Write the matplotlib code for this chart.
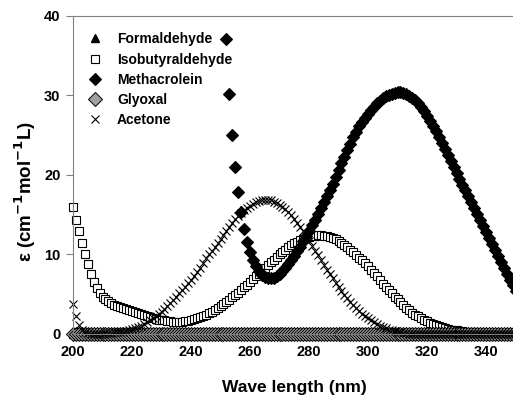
import numpy as np
import matplotlib
matplotlib.use("Agg")
import matplotlib.pyplot as plt

plt.rcParams["font.family"] = ["Liberation Sans", "DejaVu Sans"]
plt.rcParams["font.weight"] = "bold"
plt.rcParams["mathtext.default"] = "bf"

# wavelength grid, 1 nm steps
wavelength = np.arange(200, 351)
wl_methacrolein = np.arange(252, 351)

formaldehyde = [
    0.05, 0.05, 0.05, 0.05, 0.05, 0.05, 0.05, 0.05, 0.05, 0.05,
    0.05, 0.05, 0.05, 0.05, 0.05, 0.05, 0.05, 0.05, 0.05, 0.05,
    0.05, 0.05, 0.05, 0.05, 0.05, 0.05, 0.05, 0.05, 0.05, 0.05,
    0.05, 0.05, 0.05, 0.05, 0.05, 0.05, 0.05, 0.05, 0.05, 0.05,
    0.08, 0.08, 0.08, 0.08, 0.08, 0.1, 0.1, 0.1, 0.1, 0.1,
    0.12, 0.12, 0.12, 0.12, 0.12, 0.14, 0.14, 0.14, 0.14, 0.14,
    0.15, 0.15, 0.15, 0.15, 0.15, 0.16, 0.16, 0.16, 0.16, 0.16,
    0.18, 0.18, 0.18, 0.18, 0.18, 0.2, 0.2, 0.2, 0.2, 0.2,
    0.2, 0.2, 0.2, 0.2, 0.2, 0.2, 0.2, 0.2, 0.2, 0.2,
    0.2, 0.2, 0.2, 0.2, 0.2, 0.2, 0.2, 0.2, 0.2, 0.2,
    0.2, 0.2, 0.2, 0.2, 0.2, 0.2, 0.2, 0.2, 0.2, 0.2,
    0.18, 0.18, 0.18, 0.18, 0.18, 0.16, 0.16, 0.16, 0.16, 0.16,
    0.15, 0.15, 0.15, 0.15, 0.15, 0.14, 0.14, 0.14, 0.14, 0.14,
    0.12, 0.12, 0.12, 0.12, 0.12, 0.1, 0.1, 0.1, 0.1, 0.1,
    0.1, 0.1, 0.1, 0.1, 0.1, 0.1, 0.1, 0.1, 0.1, 0.1,
    0.1,
]

isobutyraldehyde = [
    16.0, 14.4, 12.9, 11.4, 10.0, 8.8, 7.6, 6.6, 5.8, 5.2,
    4.7, 4.35, 4.1, 3.9, 3.7, 3.55, 3.4, 3.3, 3.15, 3.0,
    2.9, 2.75, 2.6, 2.5, 2.35, 2.2, 2.1, 2.0, 1.9, 1.8,
    1.75, 1.7, 1.65, 1.6, 1.55, 1.55, 1.55, 1.55, 1.6, 1.65,
    1.75, 1.85, 1.95, 2.1, 2.25, 2.4, 2.6, 2.8, 3.0, 3.25,
    3.5, 3.75, 4.0, 4.3, 4.6, 4.9, 5.2, 5.5, 5.85, 6.2,
    6.55, 6.9, 7.25, 7.6, 7.95, 8.3, 8.65, 9.0, 9.35, 9.7,
    10.0, 10.3, 10.6, 10.9, 11.15, 11.4, 11.6, 11.8, 11.95, 12.1,
    12.2, 12.3, 12.35, 12.4, 12.4, 12.35, 12.3, 12.2, 12.05, 11.9,
    11.7, 11.45, 11.2, 10.9, 10.6, 10.3, 9.95, 9.6, 9.25, 8.9,
    8.5, 8.1, 7.7, 7.25, 6.8, 6.35, 5.9, 5.5, 5.1, 4.7,
    4.35, 4.0, 3.65, 3.3, 3.0, 2.7, 2.45, 2.2, 2.0, 1.8,
    1.6, 1.4, 1.25, 1.1, 0.95, 0.85, 0.75, 0.65, 0.55, 0.5,
    0.45, 0.4, 0.35, 0.3, 0.27, 0.25, 0.22, 0.2, 0.18, 0.16,
    0.15, 0.14, 0.13, 0.12, 0.11, 0.1, 0.1, 0.1, 0.1, 0.1,
    0.1,
]

methacrolein = [
    37.1, 30.2, 25.0, 21.0, 17.9, 15.3, 13.2, 11.6, 10.3, 9.3,
    8.5, 7.9, 7.45, 7.15, 7.0, 7.0, 7.1, 7.3, 7.6, 7.95,
    8.35, 8.8, 9.3, 9.85, 10.4, 11.0, 11.65, 12.3, 12.95, 13.65,
    14.35, 15.05, 15.8, 16.55, 17.3, 18.1, 18.9, 19.75, 20.6, 21.45,
    22.3, 23.15, 23.95, 24.75, 25.45, 26.1, 26.7, 27.2, 27.7, 28.15,
    28.6, 29.0, 29.35, 29.65, 29.9, 30.1, 30.25, 30.35, 30.4, 30.4,
    30.3, 30.15, 29.95, 29.7, 29.4, 29.0, 28.55, 28.0, 27.45, 26.85,
    26.2, 25.5, 24.8, 24.05, 23.3, 22.55, 21.8, 21.05, 20.3, 19.55,
    18.8, 18.05, 17.3, 16.55, 15.8, 15.05, 14.3, 13.55, 12.8, 12.05,
    11.3, 10.55, 9.8, 9.05, 8.3, 7.6, 6.8, 6.1, 5.4,
]

glyoxal = [
    0.0, 0.0, 0.0, 0.0, 0.0, 0.0, 0.0, 0.0, 0.0, 0.0,
    0.0, 0.0, 0.0, 0.0, 0.0, 0.0, 0.0, 0.0, 0.0, 0.0,
    0.0, 0.0, 0.0, 0.0, 0.0, 0.0, 0.0, 0.0, 0.0, 0.0,
    0.0, 0.0, 0.0, 0.0, 0.0, 0.0, 0.0, 0.0, 0.0, 0.0,
    0.0, 0.0, 0.0, 0.0, 0.0, 0.0, 0.0, 0.0, 0.0, 0.0,
    0.0, 0.0, 0.0, 0.0, 0.0, 0.0, 0.0, 0.0, 0.0, 0.0,
    0.0, 0.0, 0.0, 0.0, 0.0, 0.0, 0.0, 0.0, 0.0, 0.0,
    0.0, 0.0, 0.0, 0.0, 0.0, 0.0, 0.0, 0.0, 0.0, 0.0,
    0.0, 0.0, 0.0, 0.0, 0.0, 0.0, 0.0, 0.0, 0.0, 0.0,
    0.0, 0.0, 0.0, 0.0, 0.0, 0.0, 0.0, 0.0, 0.0, 0.0,
    0.0, 0.0, 0.0, 0.0, 0.0, 0.0, 0.0, 0.0, 0.0, 0.0,
    0.0, 0.0, 0.0, 0.0, 0.0, 0.0, 0.0, 0.0, 0.0, 0.0,
    0.0, 0.0, 0.0, 0.0, 0.0, 0.0, 0.0, 0.0, 0.0, 0.0,
    0.0, 0.0, 0.0, 0.0, 0.0, 0.0, 0.0, 0.0, 0.0, 0.0,
    0.0, 0.0, 0.0, 0.0, 0.0, 0.0, 0.0, 0.0, 0.0, 0.0,
    0.0,
]

acetone = [
    3.8, 2.3, 1.1, 0.5, 0.2, 0.1, 0.05, 0.05, 0.05, 0.05,
    0.05, 0.1, 0.1, 0.15, 0.2, 0.2, 0.25, 0.3, 0.4, 0.5,
    0.6, 0.75, 0.9, 1.05, 1.25, 1.45, 1.7, 1.95, 2.2, 2.5,
    2.8, 3.15, 3.5, 3.9, 4.3, 4.7, 5.1, 5.5, 5.95, 6.4,
    6.85, 7.3, 7.8, 8.3, 8.95, 9.5, 10.0, 10.5, 11.0, 11.5,
    12.0, 12.5, 13.0, 13.5, 14.0, 14.45, 14.85, 15.2, 15.55, 15.85,
    16.1, 16.35, 16.55, 16.7, 16.8, 16.9, 16.9, 16.8, 16.65, 16.45,
    16.25, 16.0, 15.7, 15.35, 14.95, 14.5, 14.0, 13.5, 12.9, 12.3,
    11.7, 11.1, 10.5, 9.9, 9.3, 8.7, 8.1, 7.55, 7.0, 6.45,
    5.95, 5.45, 4.95, 4.5, 4.05, 3.65, 3.25, 2.9, 2.55, 2.25,
    1.95, 1.7, 1.45, 1.25, 1.05, 0.85, 0.7, 0.55, 0.45, 0.35,
    0.25, 0.2, 0.15, 0.1, 0.05, 0.05, 0.05, 0.05, 0.05, 0.05,
    0.0, 0.0, 0.0, 0.0, 0.0, 0.0, 0.0, 0.0, 0.0, 0.0,
    0.0, 0.0, 0.0, 0.0, 0.0, 0.0, 0.0, 0.0, 0.0, 0.0,
    0.0, 0.0, 0.0, 0.0, 0.0, 0.0, 0.0, 0.0, 0.0, 0.0,
    0.0,
]

fig = plt.figure(figsize=(5.13, 3.96), dpi=100)
ax = fig.add_axes([0.1423, 0.1566, 0.8626, 0.803])

ax.plot(wavelength, formaldehyde, ls="none", marker="^", ms=6,
        mfc="black", mec="black", label="Formaldehyde", clip_on=False)
ax.plot(wavelength, isobutyraldehyde, ls="none", marker="s", ms=6,
        mfc="white", mec="black", mew=0.8, label="Isobutyraldehyde", clip_on=False)
ax.plot(wl_methacrolein, methacrolein, ls="none", marker="D", ms=6,
        mfc="black", mec="black", mew=0.8, label="Methacrolein", clip_on=False)
ax.plot(wavelength, glyoxal, ls="none", marker="D", ms=7,
        mfc="#a0a0a0", mec="black", mew=0.7, label="Glyoxal", clip_on=False)
ax.plot(wavelength, acetone, ls="none", marker="x", ms=6,
        mec="black", mew=0.8, label="Acetone", clip_on=False)

ax.set_xlim(200, 350)
ax.set_ylim(0, 40)
ax.set_xticks(np.arange(200, 341, 20))
ax.set_yticks([0, 10, 20, 30, 40])
ax.tick_params(direction="out", length=5, color="#808080", labelsize=10.5)
ax.tick_params(axis="x", pad=3)
ax.tick_params(axis="y", pad=4)
for lbl in ax.get_xticklabels() + ax.get_yticklabels():
    lbl.set_fontweight("bold")

for s in ["left", "top", "bottom"]:
    ax.spines[s].set_color("#808080")
ax.spines["right"].set_visible(False)

ax.set_xlabel("Wave length (nm)", fontsize=12.5, fontweight="bold", labelpad=15)
ax.set_ylabel("ε (cm$^{-1}$mol$^{-1}$L)", fontsize=13.5, fontweight="bold")
ax.yaxis.set_label_coords(-0.08, 0.45)

leg = ax.legend(loc="upper left", bbox_to_anchor=(0.015, 0.975), frameon=False,
                handlelength=1.0, handletextpad=1.1, labelspacing=0.45,
                fontsize=10, borderaxespad=0.2)
for t in leg.get_texts():
    t.set_fontweight("bold")

fig.savefig("out.png", dpi=100)
